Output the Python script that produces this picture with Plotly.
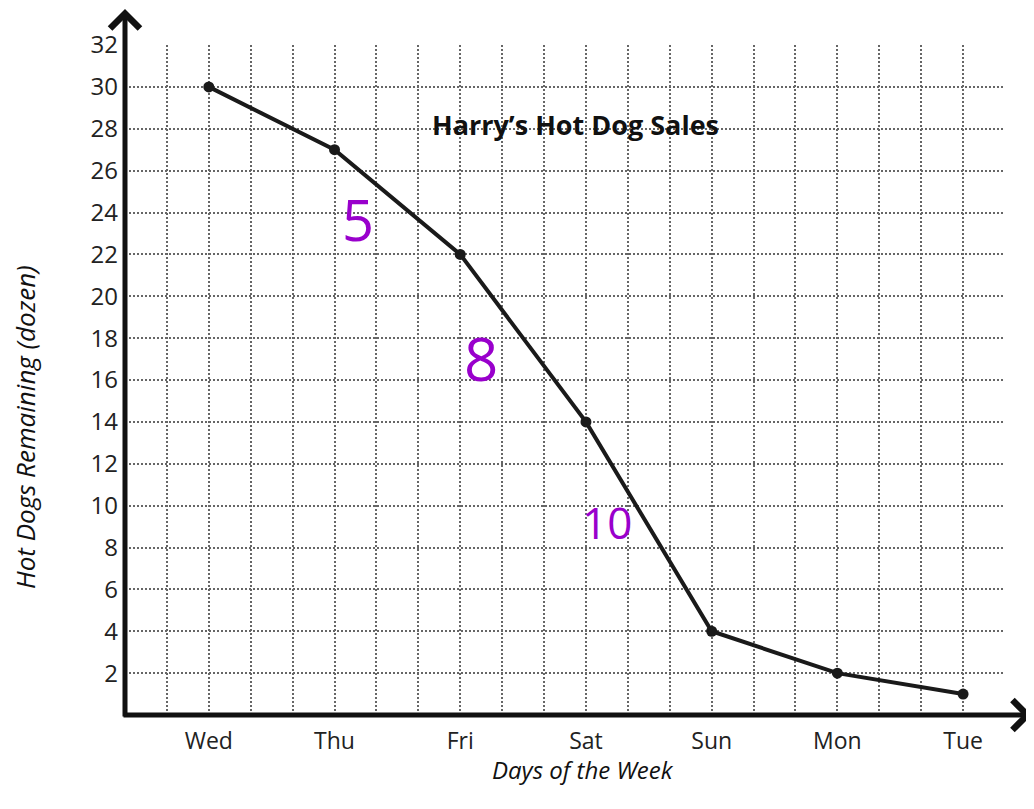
import plotly.graph_objects as go

days = ["Wed", "Thu", "Fri", "Sat", "Sun", "Mon", "Tue"]
remaining = [30, 27, 22, 14, 4, 2, 1]
y_ticks = list(range(2, 33, 2))
notes = ["5", "8", "10"]
note_x = [5.55, 8.5, 11.5]
note_y = [23.7, 17.05, 9.2]
note_size = [56, 60, 44]

day_pos = [2 + 3 * i for i in range(len(days))]

GRID = "#666666"
FONT = "Open Sans"
PURPLE = "#9900CC"

# page has an 8px body margin; figure coordinates are page coordinates - 8
OFF = 8
L, T, PW, PH = 125 - OFF, 45 - OFF, 880, 670
W, H = 1034 - OFF, 809 - OFF

fig = go.Figure()
fig.add_trace(go.Scatter(
    x=day_pos, y=remaining, mode="lines+markers",
    line=dict(color="#1a1a1a", width=4),
    marker=dict(color="#1a1a1a", size=11),
    cliponaxis=False, showlegend=False,
))

grid_common = dict(showgrid=True, gridcolor=GRID, gridwidth=1.8, griddash="2px,2px",
                   zeroline=False, showline=False, ticks="")

fig.update_xaxes(range=[0, 21], tickmode="array", tickvals=day_pos, ticktext=days,
                 tickfont=dict(family=FONT, size=23, color="#222"),
                 minor=dict(tickmode="linear", tick0=0, dtick=1, showgrid=True,
                            gridcolor=GRID, gridwidth=1.8, griddash="2px,2px"),
                 ticklabelstandoff=10,
                 **grid_common)
fig.update_yaxes(range=[0, 32], tickmode="array", tickvals=y_ticks,
                 tickfont=dict(family=FONT, size=24, color="#222"),
                 ticklabelstandoff=6,
                 **grid_common)

ann = []
# axes with arrows (paper refs so they may extend beyond the plot area)
ann.append(dict(x=(1032 - 125) / PW, y=0, ax=-(1032 - 122), ay=0,
                xref="paper", yref="paper", axref="pixel", ayref="pixel",
                text="", showarrow=True, arrowhead=4, arrowwidth=5, arrowsize=1.15,
                arrowcolor="#111", standoff=0, startstandoff=0))
ann.append(dict(x=0, y=(715 - 8) / PH, ax=0, ay=(718 - 8),
                xref="paper", yref="paper", axref="pixel", ayref="pixel",
                text="", showarrow=True, arrowhead=4, arrowwidth=5, arrowsize=1.15,
                arrowcolor="#111", standoff=0, startstandoff=0))
# title
ann.append(dict(x=10.74, y=28.2, xref="x", yref="y", text="<b>Harry’s Hot Dog Sales</b>",
                showarrow=False, font=dict(family=FONT, size=27, color="#111")))
# axis titles
ann.append(dict(x=(583 - 125) / PW, y=(715 - 770) / PH, xref="paper", yref="paper",
                xanchor="center", yanchor="middle",
                text="<i>Days of the Week</i>", showarrow=False,
                font=dict(family=FONT, size=24, color="#111")))
ann.append(dict(x=(25 - 125) / PW, y=(715 - 427) / PH, xref="paper", yref="paper",
                xanchor="center", yanchor="middle",
                text="<i>Hot Dogs Remaining (dozen)</i>", showarrow=False, textangle=-90,
                font=dict(family=FONT, size=26, color="#111")))
# handwritten notes
for t, nx, ny, s in zip(notes, note_x, note_y, note_size):
    ann.append(dict(x=nx, y=ny, xref="x", yref="y", text=t, showarrow=False,
                    font=dict(family=FONT, size=s, color=PURPLE)))

fig.update_layout(
    width=W, height=H,
    margin=dict(l=L, r=W - L - PW, t=T, b=H - T - PH),
    plot_bgcolor="white", paper_bgcolor="white",
    annotations=ann,
)

fig.write_html("out.html")
